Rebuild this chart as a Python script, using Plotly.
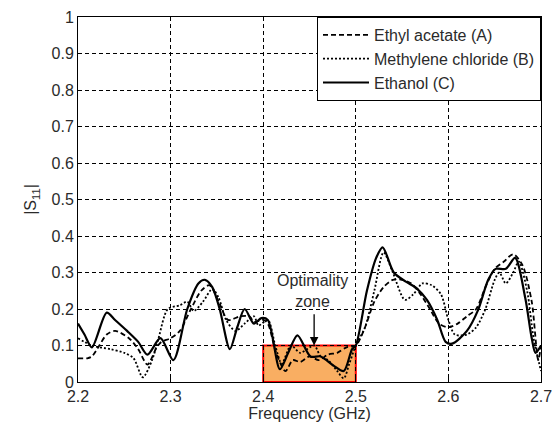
import plotly.graph_objects as go

# Ethyl acetate (A) - dashed
fa = [2.200, 2.210, 2.215, 2.223, 2.231, 2.240, 2.255, 2.265, 2.275, 2.285, 2.290, 2.300, 2.310, 2.322, 2.333, 2.342,
      2.352, 2.362, 2.375, 2.385, 2.390, 2.400, 2.405, 2.414, 2.424, 2.432, 2.440, 2.450, 2.460, 2.470, 2.480, 2.490, 2.500,
      2.510, 2.520, 2.530, 2.540, 2.550, 2.560, 2.570, 2.580, 2.590, 2.600, 2.610, 2.620, 2.630, 2.640, 2.650, 2.660,
      2.670, 2.680, 2.690, 2.697, 2.700]
va = [0.065, 0.065, 0.070, 0.100, 0.130, 0.140, 0.120, 0.090, 0.048, 0.095, 0.110, 0.120, 0.140, 0.200, 0.250, 0.265,
      0.220, 0.170, 0.180, 0.180, 0.165, 0.170, 0.160, 0.080, 0.030, 0.060, 0.055, 0.070, 0.060, 0.075, 0.080, 0.095, 0.100,
      0.150, 0.220, 0.260, 0.280, 0.280, 0.270, 0.240, 0.200, 0.160, 0.150, 0.160, 0.180, 0.200, 0.260, 0.310, 0.330,
      0.350, 0.320, 0.220, 0.060, 0.100]

# Methylene chloride (B) - dotted
fb = [2.200, 2.215, 2.235, 2.250, 2.260, 2.270, 2.280, 2.287, 2.297, 2.310, 2.318, 2.325, 2.335, 2.345, 2.352, 2.360,
      2.370, 2.380, 2.390, 2.395, 2.405, 2.413, 2.420, 2.430, 2.440, 2.455, 2.462, 2.470, 2.480, 2.487, 2.493, 2.500,
      2.510, 2.520, 2.530, 2.540, 2.553, 2.562, 2.572, 2.582, 2.592, 2.600, 2.607, 2.620, 2.630, 2.640, 2.650, 2.655,
      2.662, 2.670, 2.676, 2.685, 2.692, 2.700]
vb = [0.120, 0.100, 0.090, 0.080, 0.065, 0.013, 0.060, 0.120, 0.200, 0.210, 0.220, 0.195, 0.220, 0.255, 0.230, 0.170,
      0.140, 0.160, 0.180, 0.155, 0.170, 0.100, 0.050, 0.100, 0.080, 0.100, 0.070, 0.060, 0.030, 0.010, 0.050, 0.100,
      0.150, 0.250, 0.355, 0.300, 0.225, 0.240, 0.270, 0.265, 0.240, 0.170, 0.130, 0.130, 0.150, 0.200, 0.280, 0.300,
      0.270, 0.300, 0.330, 0.250, 0.120, 0.030]

# Ethanol (C) - solid
fc = [2.200, 2.207, 2.215, 2.231, 2.240, 2.253, 2.265, 2.275, 2.289, 2.303, 2.318, 2.330, 2.337, 2.345, 2.353, 2.364,
      2.372, 2.380, 2.390, 2.398, 2.405, 2.418, 2.427, 2.437, 2.451, 2.462, 2.476, 2.487, 2.496, 2.500,
      2.512, 2.522, 2.529, 2.541, 2.554, 2.566, 2.577, 2.588, 2.597, 2.604, 2.620, 2.632, 2.643, 2.651, 2.662,
      2.672, 2.683, 2.690, 2.694, 2.700]
vc = [0.160, 0.130, 0.095, 0.190, 0.170, 0.140, 0.110, 0.075, 0.120, 0.060, 0.200, 0.270, 0.280, 0.260, 0.200, 0.090,
      0.150, 0.200, 0.160, 0.175, 0.170, 0.035, 0.080, 0.128, 0.070, 0.070, 0.045, 0.030, 0.090, 0.100,
      0.250, 0.340, 0.369, 0.300, 0.275, 0.256, 0.224, 0.170, 0.110, 0.105, 0.140, 0.197, 0.280, 0.310, 0.310,
      0.340, 0.230, 0.120, 0.080, 0.100]

names = ["Ethyl acetate (A)", "Methylene chloride (B)", "Ethanol (C)"]
xticks = [2.2, 2.3, 2.4, 2.5, 2.6, 2.7]
xticklabels = ["2.2", "2.3", "2.4", "2.5", "2.6", "2.7"]
yticks = [i / 10 for i in range(11)]
yticklabels = ["0", "0.1", "0.2", "0.3", "0.4", "0.5", "0.6", "0.7", "0.8", "0.9", "1"]

FONT = "Liberation Sans, Arial"
TXT = "#2a2a2a"

fig = go.Figure()
fig.add_shape(type="rect", x0=2.4, x1=2.5, y0=0, y1=0.1, fillcolor="#F9AE62",
              line=dict(color="#FF0000", width=2), layer="below")
fig.add_trace(go.Scatter(x=fa, y=va, mode="lines", name=names[0],
                         line=dict(color="black", width=1.8, dash="5px,3px", shape="spline", smoothing=0.8)))
fig.add_trace(go.Scatter(x=fb, y=vb, mode="lines", name=names[1],
                         line=dict(color="black", width=1.8, dash="2px,2px", shape="spline", smoothing=0.8)))
fig.add_trace(go.Scatter(x=fc, y=vc, mode="lines", name=names[2],
                         line=dict(color="black", width=2.2, shape="spline", smoothing=0.8)))

fig.add_annotation(x=2.455, y=0.1, ax=2.455, ay=0.19, xref="x", yref="y", axref="x", ayref="y",
                   text="", showarrow=True, arrowhead=2, arrowsize=1.3, arrowwidth=1.3, arrowcolor="black")
fig.add_annotation(x=2.453, y=0.192, xref="x", yref="y", text="Optimality<br>zone", showarrow=False,
                   yanchor="bottom", font=dict(size=16, color=TXT, family=FONT))

axis_common = dict(showline=True, linecolor="black", linewidth=1, mirror=True,
                   showgrid=True, gridcolor="black", griddash="4px,3px", gridwidth=1,
                   ticks="inside", ticklen=4, tickcolor="black", zeroline=False, automargin=False,
                   tickfont=dict(size=16, color=TXT, family=FONT))

fig.update_xaxes(range=[2.2, 2.7], tickvals=xticks, ticktext=xticklabels,
                 title=dict(text="Frequency (GHz)", standoff=0,
                            font=dict(size=16, color=TXT, family=FONT)),
                 **axis_common)
fig.update_yaxes(range=[0, 1], tickvals=yticks, ticktext=yticklabels,
                 title=dict(text="|S<sub>11</sub>|", standoff=10,
                            font=dict(size=16, color=TXT, family=FONT)),
                 **axis_common)

fig.update_layout(width=555, height=425, margin=dict(l=78, r=14, t=17, b=43),
                  paper_bgcolor="white", plot_bgcolor="white",
                  legend=dict(x=1, y=1, xanchor="right", yanchor="top", bgcolor="white",
                              bordercolor="black", borderwidth=1, tracegroupgap=0,
                              font=dict(size=16, color=TXT, family=FONT),
                              itemwidth=46),
                  showlegend=True)

fig.write_html("out.html")
